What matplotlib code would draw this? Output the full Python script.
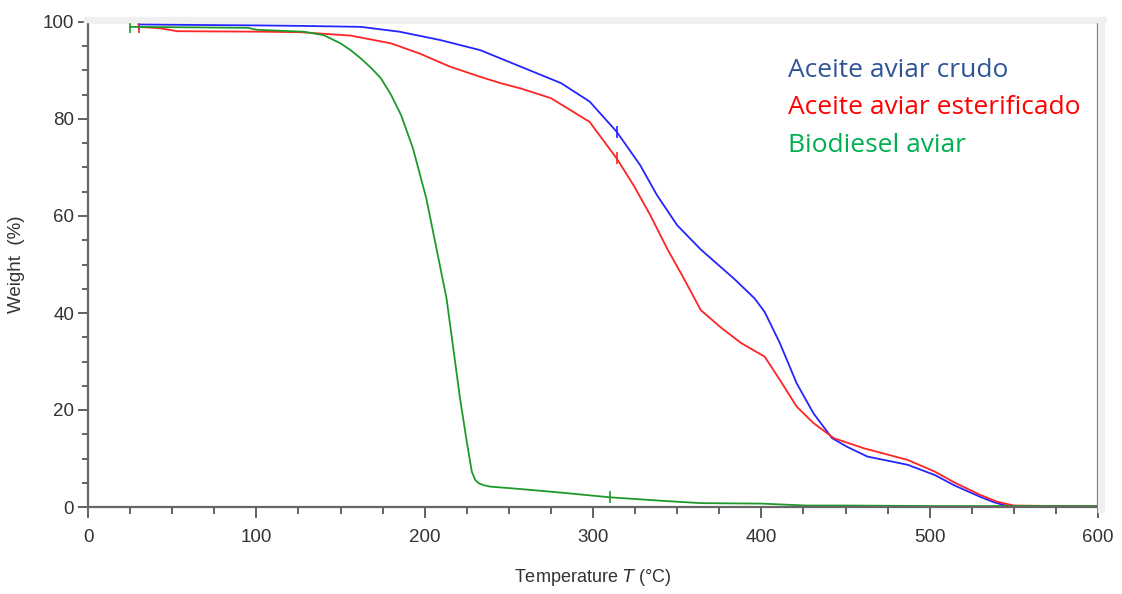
import matplotlib
matplotlib.use("Agg")
import matplotlib.pyplot as plt
from matplotlib.ticker import MultipleLocator
from matplotlib.patches import Rectangle

T_crudo = [30, 60, 100, 126, 162, 185, 209, 233, 245, 257, 281, 298, 314, 328,
           338, 350, 364, 384, 396, 402, 411, 421, 431, 442, 451, 463, 487, 503,
           515, 530, 538, 544, 552, 600]
W_crudo = [99.5, 99.4, 99.3, 99.2, 99.0, 98.0, 96.3, 94.2, 92.5, 90.8, 87.4, 83.6,
           77.4, 70.5, 64.3, 58.1, 53.1, 47.0, 43.0, 40.2, 33.8, 25.5, 19.3, 14.2,
           12.4, 10.4, 8.7, 6.6, 4.4, 2.1, 1.0, 0.4, 0.1, 0.1]

T_ester = [30, 43, 53, 104, 126, 156, 180, 197, 215, 233, 245, 257, 275, 298,
           314, 324, 334, 344, 354, 364, 376, 388, 402, 411, 421, 431, 443, 461,
           487, 503, 515, 530, 540, 550, 600]
W_ester = [99.0, 98.7, 98.1, 98.0, 97.9, 97.2, 95.6, 93.5, 90.8, 88.7, 87.4, 86.3,
           84.3, 79.4, 71.9, 66.4, 60.2, 53.3, 47.1, 40.6, 37.0, 33.8, 31.0, 26.2,
           20.7, 17.3, 14.2, 12.1, 9.7, 7.3, 5.0, 2.5, 1.1, 0.3, 0.1]

T_bio = [25, 60, 95, 100, 128, 140, 150, 156, 162, 168, 174, 180, 186, 193, 201,
         207, 213, 217, 221, 225, 228, 230, 232, 235, 239, 257, 280, 310, 340, 364,
         400, 427, 450, 500, 600]
W_bio = [99.0, 98.9, 98.8, 98.4, 98.0, 97.3, 95.6, 94.2, 92.5, 90.6, 88.4, 85.0,
         80.8, 74.0, 63.6, 53.3, 43.0, 32.7, 22.4, 13.5, 7.3, 5.6, 4.9, 4.5, 4.2,
         3.7, 3.0, 2.0, 1.3, 0.8, 0.7, 0.3, 0.3, 0.2, 0.2]

# marcas verticales pequeñas sobre las curvas
marks_crudo = ([30, 314], [99.5, 77.4])
marks_ester = ([30, 314, 600], [99.0, 71.9, 0.1])
marks_bio = ([25, 310, 600], [99.0, 2.0, 0.2])

series = [
    ("Aceite aviar crudo", T_crudo, W_crudo, marks_crudo, "#2424ff", "#2f5597"),
    ("Aceite aviar esterificado", T_ester, W_ester, marks_ester, "#ff2424", "#ff0000"),
    ("Biodiesel aviar", T_bio, W_bio, marks_bio, "#1f9a2a", "#00b050"),
]

# ── gráfico ───────────────────────────────────────────────
plt.rcParams["font.family"] = ["Liberation Sans", "DejaVu Sans"]
fig = plt.figure(figsize=(11.22, 5.94), dpi=100)
ax = fig.add_axes([88 / 1122, 87 / 594, 1010 / 1122, 485 / 594])

# sombra gris suave del marco (arriba y a la derecha)
fig.patches.append(Rectangle((84 / 1122, 572 / 594), 1022 / 1122, 5 / 594,
                             transform=fig.transFigure, color="#f0f0f0", zorder=0))
fig.patches.append(Rectangle((1098 / 1122, 82 / 594), 6 / 1122, 495 / 594,
                             transform=fig.transFigure, color="#f0f0f0", zorder=0))

for name, T, W, marks, c_line, c_txt in series:
    ax.plot(T, W, color=c_line, linewidth=1.3)
    ax.plot(marks[0], marks[1], linestyle="none", marker="|", markersize=9,
            markeredgewidth=1.2, color=c_line)

ax.set_xlim(0, 600)
ax.set_ylim(0, 100)
ax.xaxis.set_major_locator(MultipleLocator(100))
ax.xaxis.set_minor_locator(MultipleLocator(25))
ax.yaxis.set_major_locator(MultipleLocator(20))
ax.yaxis.set_minor_locator(MultipleLocator(5))
ax.tick_params(which="both", direction="out", colors="#555555",
               labelcolor="#333333", labelsize=13.5, width=1.3)
ax.tick_params(axis="y", which="major", length=7, pad=3)
ax.tick_params(axis="y", which="minor", length=4)
ax.tick_params(axis="x", which="major", length=8, pad=8)
ax.tick_params(axis="x", which="minor", length=5)
for s in ax.spines.values():
    s.set_color("#666666")
    s.set_linewidth(1.6)

ax.set_xlabel("Temperature $T$ (°C)", fontsize=13, color="#333333", labelpad=15)
ax.set_ylabel("Weight  (%)", fontsize=13.5, color="#333333", labelpad=13)

# leyenda como texto coloreado
y0 = 0.901
for i, (name, T, W, marks, c_line, c_txt) in enumerate(series):
    ax.text(0.693, y0 - i * 0.0775, name, transform=ax.transAxes, color=c_txt,
            fontsize=19, family=["Open Sans", "DejaVu Sans"], va="center")

fig.savefig("out.png", dpi=100)
